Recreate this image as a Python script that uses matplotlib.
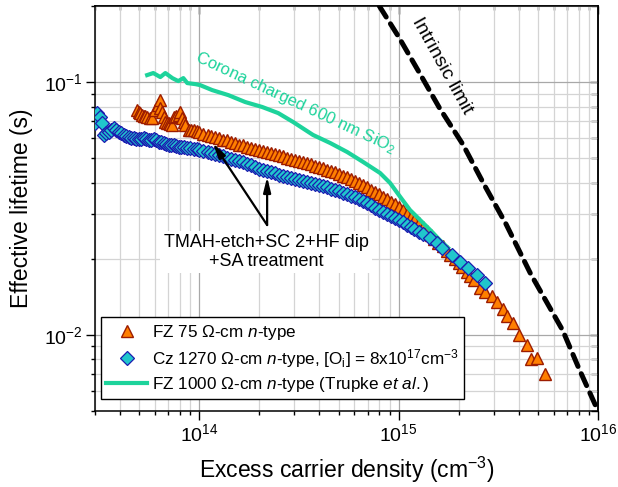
import matplotlib
matplotlib.use('Agg')
import matplotlib.pyplot as plt
from matplotlib.ticker import LogLocator, LogFormatterMathtext, NullFormatter
from matplotlib.lines import Line2D

plt.rcParams['font.family'] = ['Liberation Sans', 'DejaVu Sans']
plt.rcParams['mathtext.fontset'] = 'custom'
plt.rcParams['mathtext.rm'] = 'Liberation Sans'
plt.rcParams['mathtext.it'] = 'Liberation Sans:italic'
plt.rcParams['mathtext.bf'] = 'Liberation Sans:bold'

# ---------------- data ----------------
# FZ 75 Ohm-cm n-type (triangles)
fz75_n = [4.88e13, 4.97e13, 5.06e13, 5.16e13, 5.26e13, 5.37e13, 5.47e13, 5.63e13, 5.80e13,
          6.02e13, 6.18e13, 6.32e13, 6.38e13, 6.50e13, 6.63e13, 6.76e13, 6.89e13, 7.02e13,
          7.16e13, 7.30e13, 7.43e13, 7.65e13, 7.87e13, 8.04e13, 8.19e13, 8.35e13, 8.51e13,
          8.84e13, 9.10e13, 9.36e13, 9.70e13,
          1.00e14, 1.05e14, 1.10e14, 1.15e14, 1.20e14, 1.26e14, 1.32e14, 1.38e14, 1.45e14, 1.51e14,
          1.58e14, 1.66e14, 1.74e14, 1.82e14, 1.91e14, 2.00e14, 2.09e14, 2.19e14, 2.29e14, 2.40e14,
          2.51e14, 2.63e14, 2.75e14, 2.88e14, 3.02e14, 3.16e14, 3.31e14, 3.47e14, 3.63e14, 3.80e14,
          3.98e14, 4.17e14, 4.37e14, 4.57e14, 4.79e14, 5.01e14, 5.25e14, 5.50e14, 5.75e14, 6.03e14,
          6.31e14, 6.61e14, 6.92e14, 7.24e14, 7.59e14, 7.94e14, 8.32e14, 8.71e14, 9.12e14, 9.55e14,
          1.00e15, 1.05e15, 1.10e15, 1.15e15, 1.20e15, 1.26e15, 1.32e15, 1.38e15, 1.45e15, 1.51e15,
          1.58e15, 1.66e15, 1.74e15, 1.82e15, 1.91e15, 2.00e15, 2.09e15, 2.19e15, 2.29e15, 2.40e15,
          2.56e15, 2.72e15, 2.94e15, 3.10e15, 3.34e15, 3.50e15, 3.75e15, 4.00e15, 4.41e15, 4.60e15,
          4.94e15, 5.42e15]
fz75_tau = [0.0775, 0.0764, 0.0752, 0.0744, 0.0736, 0.0732, 0.0729, 0.0724, 0.0719,
            0.0775, 0.0812, 0.0849, 0.0787, 0.0763, 0.0730, 0.0697, 0.0692, 0.0687,
            0.0682, 0.0676, 0.0729, 0.0735, 0.0741, 0.0763, 0.0719, 0.0698, 0.0676,
            0.0646, 0.0646, 0.0646, 0.0640,
            0.0632, 0.0624, 0.0620, 0.0611, 0.0606, 0.0601, 0.0592, 0.0588, 0.0577, 0.0572,
            0.0566, 0.0563, 0.0555, 0.0551, 0.0546, 0.0540, 0.0536, 0.0528, 0.0524, 0.0518,
            0.0513, 0.0508, 0.0503, 0.0497, 0.0493, 0.0488, 0.0484, 0.0477, 0.0473, 0.0467,
            0.0462, 0.0457, 0.0451, 0.0446, 0.0440, 0.0434, 0.0427, 0.0420, 0.0413, 0.0405,
            0.0398, 0.0391, 0.0383, 0.0375, 0.0368, 0.0360, 0.0352, 0.0344, 0.0336, 0.0328,
            0.0320, 0.0311, 0.0302, 0.0294, 0.0285, 0.0276, 0.0267, 0.0258, 0.0249, 0.0240,
            0.0232, 0.0224, 0.0215, 0.0207, 0.0199, 0.0192, 0.0185, 0.0178, 0.0171, 0.0165,
            0.0153, 0.0148, 0.0142, 0.0135, 0.0127, 0.0119, 0.0111, 0.0100, 0.0091, 0.0080,
            0.0081, 0.0070]

# Cz 1270 Ohm-cm n-type (diamonds)
cz_n = [3.01e13, 3.07e13, 3.19e13, 3.25e13, 3.31e13, 3.41e13, 3.51e13, 3.62e13, 3.72e13,
        3.83e13, 3.94e13, 4.06e13, 4.18e13, 4.30e13, 4.43e13, 4.56e13, 4.69e13, 4.83e13,
        4.97e13, 5.11e13, 5.26e13, 5.41e13, 5.57e13, 5.74e13, 5.91e13, 6.08e13, 6.25e13,
        6.44e13, 6.63e13, 6.82e13, 7.02e13, 7.22e13, 7.43e13, 7.65e13, 7.87e13, 8.10e13,
        8.34e13, 8.67e13, 9.01e13, 9.36e13, 9.73e13,
        1.00e14, 1.05e14, 1.10e14, 1.15e14, 1.20e14, 1.26e14, 1.32e14, 1.38e14, 1.45e14, 1.51e14,
        1.58e14, 1.66e14, 1.74e14, 1.82e14, 1.91e14, 2.00e14, 2.09e14, 2.19e14, 2.29e14, 2.40e14,
        2.51e14, 2.63e14, 2.75e14, 2.88e14, 3.02e14, 3.16e14, 3.31e14, 3.47e14, 3.63e14, 3.80e14,
        3.98e14, 4.17e14, 4.37e14, 4.57e14, 4.79e14, 5.01e14, 5.25e14, 5.50e14, 5.75e14, 6.03e14,
        6.31e14, 6.61e14, 6.92e14, 7.24e14, 7.59e14, 7.94e14, 8.32e14, 8.71e14, 9.12e14, 9.55e14,
        1.00e15, 1.05e15, 1.10e15, 1.15e15, 1.20e15, 1.26e15, 1.32e15,
        1.44e15, 1.55e15, 1.65e15, 1.85e15, 2.03e15, 2.23e15, 2.47e15, 2.72e15]
cz_tau = [0.0687, 0.0752, 0.0729, 0.0687, 0.0618, 0.0628, 0.0637, 0.0646, 0.0656,
          0.0646, 0.0637, 0.0628, 0.0618, 0.0613, 0.0608, 0.0603, 0.0599, 0.0597,
          0.0595, 0.0597, 0.0599, 0.0594, 0.0590, 0.0592, 0.0595, 0.0588, 0.0581,
          0.0577, 0.0573, 0.0568, 0.0564, 0.0564, 0.0564, 0.0560, 0.0555, 0.0555,
          0.0555, 0.0551, 0.0547, 0.0545, 0.0543,
          0.0538, 0.0534, 0.0528, 0.0525, 0.0520, 0.0515, 0.0509, 0.0503, 0.0498, 0.0492,
          0.0488, 0.0481, 0.0474, 0.0468, 0.0461, 0.0455, 0.0450, 0.0444, 0.0440, 0.0435,
          0.0430, 0.0426, 0.0422, 0.0418, 0.0414, 0.0410, 0.0406, 0.0403, 0.0399, 0.0396,
          0.0392, 0.0388, 0.0383, 0.0379, 0.0374, 0.0370, 0.0365, 0.0360, 0.0355, 0.0350,
          0.0345, 0.0338, 0.0331, 0.0325, 0.0318, 0.0312, 0.0306, 0.0301, 0.0296, 0.0290,
          0.0285, 0.0279, 0.0273, 0.0267, 0.0262, 0.0256, 0.0250,
          0.0242, 0.0230, 0.0221, 0.0207, 0.0194, 0.0184, 0.0173, 0.0161]

# FZ 1000 Ohm-cm n-type, corona charged (Trupke et al.)
trupke_n = [5.48e13, 5.88e13, 6.38e13, 6.76e13, 7.33e13, 7.85e13, 8.32e13, 8.71e13, 9.55e13,
            1.01e14, 1.16e14, 1.40e14, 1.70e14, 2.07e14, 2.49e14, 2.96e14, 3.72e14, 4.54e14,
            5.52e14, 6.64e14, 8.07e14, 9.06e14, 1.02e15, 1.14e15, 1.28e15, 1.44e15, 1.61e15,
            1.77e15]
trupke_tau = [0.1066, 0.1086, 0.1047, 0.1086, 0.1037, 0.1009, 0.1037, 0.0991, 0.0982,
              0.0973, 0.0930, 0.0888, 0.0834, 0.0797, 0.0754, 0.0695, 0.0618, 0.0574,
              0.0529, 0.0483, 0.0437, 0.0399, 0.0351, 0.0312, 0.0285, 0.0260, 0.0237,
              0.0221]

# Intrinsic limit
intrinsic_n = [8.0e14, 1.0e15, 1.27e15, 1.6e15, 2.1e15, 2.69e15, 3.46e15, 4.6e15, 6.66e15,
               8.0e15, 1.0e16]
intrinsic_tau = [0.200, 0.151, 0.109, 0.0792, 0.0567, 0.0392, 0.0274, 0.0174, 0.0104,
                 0.0074, 0.0050]

legend_labels = ['FZ 75 Ω-cm $n$-type',
                 'Cz 1270 Ω-cm $n$-type, [O$_\\mathrm{i}$] = 8x10$^{17}$cm$^{-3}$',
                 'FZ 1000 Ω-cm $n$-type (Trupke $et\\ al.$)']

# ---------------- styles ----------------
ORANGE = '#ff7f00'
ORANGE_EDGE = '#9c1c00'
CYAN = '#20c6cc'
CYAN_EDGE = '#1c1cb0'
GREEN = '#1dd39b'

fig = plt.figure(figsize=(6.18, 4.87), dpi=100)
ax = fig.add_axes([95 / 618, 76 / 487, 503 / 618, 405 / 487])
ax.set_xscale('log')
ax.set_yscale('log')
ax.set_xlim(3e13, 1e16)
ax.set_ylim(5e-3, 0.2)

ax.grid(True, which='major', color='#a8a8a8', lw=0.9, zorder=0)
ax.grid(True, which='minor', color='#d4d4d4', lw=0.9, zorder=0)
ax.set_axisbelow(True)

ax.plot(fz75_n, fz75_tau, ls='none', marker='^', ms=8.5, mfc=ORANGE, mec=ORANGE_EDGE,
        mew=1.0, zorder=3)
ax.plot(trupke_n, trupke_tau, color=GREEN, lw=3, zorder=4)
ax.plot(cz_n, cz_tau, ls='none', marker='D', ms=6.8, mfc=CYAN, mec=CYAN_EDGE,
        mew=0.9, zorder=5)
ax.plot(intrinsic_n, intrinsic_tau, color='black', lw=3.6, dashes=(2.6, 1.6),
        dash_capstyle='round', zorder=4)

# texts
ax.text(3.05e14, 0.0830, 'Corona charged 600 nm SiO$_2$', color=GREEN, fontsize=12,
        rotation=-25, ha='center', va='center', rotation_mode='anchor', zorder=6)
ax.text(1.65e15, 0.1157, 'Intrinsic limit', color='black', fontsize=14,
        rotation=-61, ha='center', va='center', rotation_mode='anchor', zorder=6)
ax.text(2.17e14, 0.0213, 'TMAH-etch+SC 2+HF dip\n+SA treatment', fontsize=13,
        ha='center', va='center', linespacing=1.1, zorder=6,
        bbox=dict(facecolor='white', edgecolor='none', pad=2.5))
for tip in [(1.17e14, 0.0574), (2.19e14, 0.0422)]:
    ax.annotate('', xy=tip, xytext=(2.19e14, 0.0272),
                arrowprops=dict(arrowstyle='-|>,head_length=0.9,head_width=0.22',
                                color='black', lw=1.6, shrinkA=0, shrinkB=0), zorder=7)

# ticks
ax.xaxis.set_major_locator(LogLocator(base=10, numticks=10))
ax.xaxis.set_minor_locator(LogLocator(base=10, subs=range(2, 10), numticks=10))
ax.yaxis.set_major_locator(LogLocator(base=10, numticks=10))
ax.yaxis.set_minor_locator(LogLocator(base=10, subs=range(2, 10), numticks=10))
ax.xaxis.set_major_formatter(LogFormatterMathtext())
ax.yaxis.set_major_formatter(LogFormatterMathtext())
ax.xaxis.set_minor_formatter(NullFormatter())
ax.yaxis.set_minor_formatter(NullFormatter())
ax.tick_params(which='major', direction='out', length=6.5, width=1, labelsize=14, pad=2)
ax.tick_params(which='minor', direction='out', length=3.2, width=1)
for s in ax.spines.values():
    s.set_linewidth(1.1)

secx = ax.secondary_xaxis('top')
secx.tick_params(which='major', direction='in', length=6, width=1, labeltop=False)
secx.tick_params(which='minor', direction='in', length=3, width=1)
secx.xaxis.set_minor_locator(LogLocator(base=10, subs=range(2, 10), numticks=10))
secx.xaxis.set_major_formatter(NullFormatter())
secx.xaxis.set_minor_formatter(NullFormatter())
secx.spines['top'].set_linewidth(1.1)
secy = ax.secondary_yaxis('right')
secy.tick_params(which='major', direction='in', length=6, width=1, labelright=False)
secy.tick_params(which='minor', direction='in', length=5, width=1)
secy.yaxis.set_minor_locator(LogLocator(base=10, subs=range(2, 10), numticks=10))
secy.yaxis.set_major_formatter(NullFormatter())
secy.yaxis.set_minor_formatter(NullFormatter())
secy.spines['right'].set_linewidth(1.1)

ax.set_xlabel('Excess carrier density (cm$^{-3}$)', fontsize=16.5, labelpad=7)
ax.set_ylabel('Effective lifetime (s)', fontsize=16.5, labelpad=8)

handles = [Line2D([], [], ls='none', marker='^', ms=8.5, mfc=ORANGE, mec=ORANGE_EDGE, mew=1.0),
           Line2D([], [], ls='none', marker='D', ms=6.8, mfc=CYAN, mec=CYAN_EDGE, mew=0.9),
           Line2D([], [], color=GREEN, lw=3)]
leg = ax.legend(handles, legend_labels, loc='lower left', bbox_to_anchor=(0.012, 0.030),
                borderaxespad=0, fontsize=12.3, frameon=True, fancybox=False,
                edgecolor='black', framealpha=1, handlelength=2.4, handletextpad=0.3,
                borderpad=0.3, labelspacing=0.3)
leg.get_frame().set_linewidth(1.0)
leg.set_zorder(8)

fig.savefig('out.png', dpi=100)
